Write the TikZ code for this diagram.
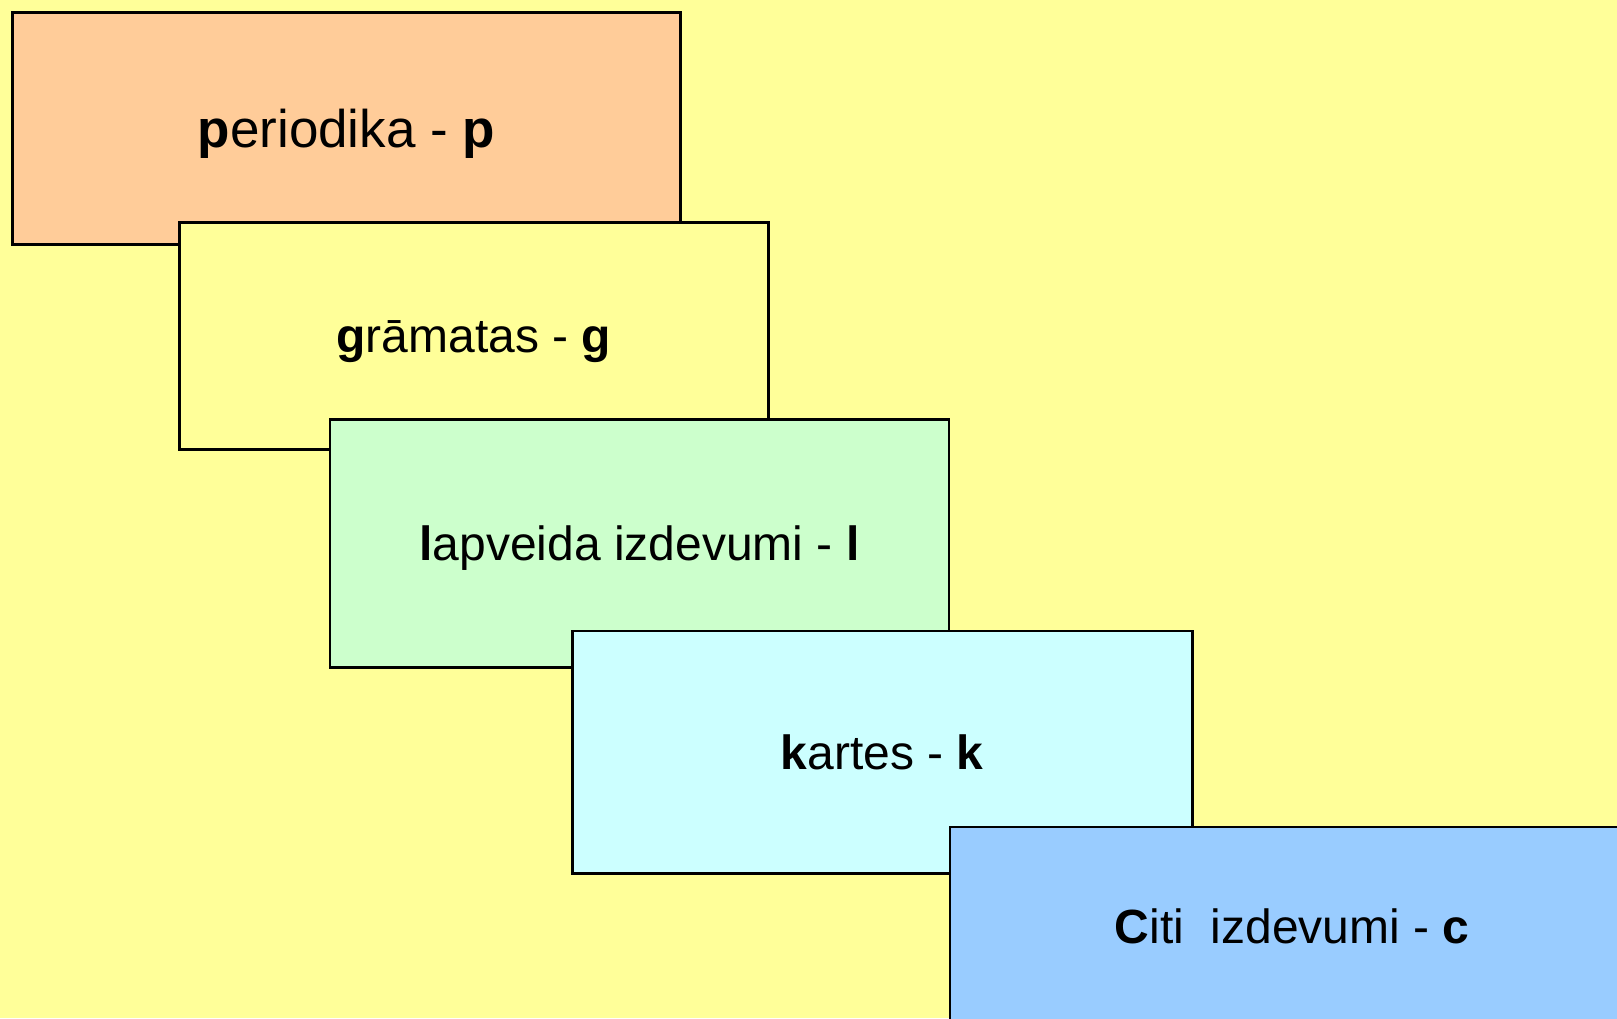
\documentclass[tikz,border=0pt]{standalone}
\usepackage{fontspec}
\setmainfont{Liberation Sans}
\usepackage{tikz}
\usetikzlibrary{positioning}
\definecolor{bgyellow}{HTML}{FFFF99}
\definecolor{peach}{HTML}{FFCC99}
\definecolor{mint}{HTML}{CCFFCC}
\definecolor{cyanlt}{HTML}{CCFFFF}
\definecolor{skyblue}{HTML}{99CCFF}
\tikzset{every picture/.style={line width=2.6pt}}
\tikzstyle{card}=[rectangle,draw=black,inner sep=0pt,text depth=0pt,font=\fontsize{48}{58}\selectfont]
\begin{document}
\begin{tikzpicture}[x=1pt,y=-1pt]
\clip (0,0) rectangle (1617,1018);
\fill[bgyellow] (0,0) rectangle (1617,1018);
\node[card,fill=peach,minimum width=668,minimum height=232,font=\fontsize{53}{64}\selectfont] (p) at (346.5,128.4) {\textbf{p}eriodika - \textbf{p}};
\node[card,fill=bgyellow,minimum width=589,minimum height=227] (g) at (473.9,336.2) {\textbf{g}rāmatas - \textbf{g}};
\node[card,fill=mint,minimum width=619,minimum height=247.5] (l) at (639.4,543.5) {\textbf{l}apveida izdevumi - \textbf{l}};
\node[card,fill=cyanlt,minimum width=620,minimum height=242.4] (k) at (882.2,752.3) {\textbf{k}artes - \textbf{k}};
\node[card,fill=skyblue,minimum width=685,minimum height=198] (c) at (1292.3,926) {\textbf{C}iti\ \ izdevumi - \textbf{c}};
\end{tikzpicture}
\end{document}
